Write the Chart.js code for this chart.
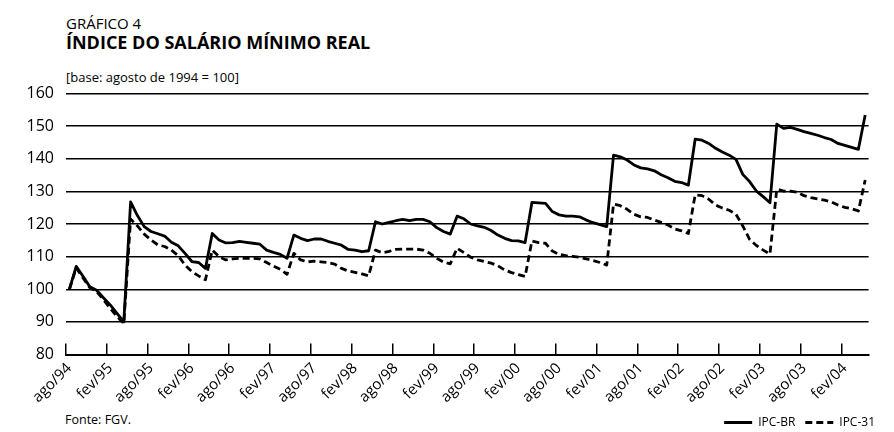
<!DOCTYPE html>
<html lang="pt-BR">
<head>
<meta charset="utf-8">
<title>Índice do salário mínimo real</title>
<script src="https://cdn.jsdelivr.net/npm/chart.js@4.4.1/dist/chart.umd.min.js"></script>
<style>
  html, body { margin: 0; padding: 0; background: #fff; }
  body { width: 894px; height: 432px; position: relative; overflow: hidden; font-family: "Open Sans", "Noto Sans", sans-serif; color: #000; }
  .txt { position: absolute; left: 66px; white-space: nowrap; line-height: 1; }
  #kicker { top: 16px; font-size: 15px; font-weight: 400; }
  #title { top: 33px; font-size: 18px; font-weight: 700; }
  #base { top: 70.5px; font-size: 13px; }
  #source { top: 414px; font-size: 12.5px; left: 65px; }
  #chart { position: absolute; left: 0; top: 0; }
</style>
</head>
<body>
<div class="txt" id="kicker">GRÁFICO 4</div>
<div class="txt" id="title">ÍNDICE DO SALÁRIO MÍNIMO REAL</div>
<div class="txt" id="base">[base: agosto de 1994 = 100]</div>
<div class="txt" id="source">Fonte: FGV.</div>
<canvas id="chart" width="894" height="432"></canvas>
<script>
// Monthly real minimum wage index, ago/94 = 100, from ago/94 to mai/04
const ipcBR = [
  100.0, 107.0, 104.0, 100.8, 99.7, 97.4, 95.2, 92.6, 90.0,
  126.8, 122.6, 119.2, 117.7, 117.0, 116.3, 114.4, 113.3, 111.0, 108.5, 108.2, 106.4,
  117.1, 115.1, 114.2, 114.3, 114.7, 114.4, 114.1, 113.8, 112.0, 111.3, 110.7, 109.5,
  116.6, 115.6, 114.9, 115.4, 115.4, 114.7, 114.1, 113.5, 112.2, 112.0, 111.5, 111.8,
  120.7, 120.0, 120.5, 121.0, 121.4, 121.0, 121.4, 121.4, 120.7, 118.9, 117.7, 116.9,
  122.4, 121.6, 120.0, 119.4, 119.0, 118.0, 116.6, 115.6, 114.9, 114.8, 114.3,
  126.6, 126.5, 126.3, 123.8, 122.8, 122.4, 122.4, 122.2, 121.2, 120.4, 119.8, 119.2,
  141.1, 140.6, 139.6, 138.1, 137.2, 136.9, 136.3, 135.1, 134.2, 133.1, 132.7, 131.9,
  146.0, 145.7, 144.7, 143.2, 142.1, 141.1, 139.8, 135.2, 133.0, 130.1, 128.4, 126.5,
  150.6, 149.3, 149.6, 149.0, 148.3, 147.8, 147.2, 146.5, 145.9, 144.7, 144.1, 143.5, 142.9,
  153.4
];

const ipc31 = [
  100.0, 106.5, 103.5, 100.5, 99.3, 96.8, 94.2, 91.6, 89.5,
  121.5, 119.4, 116.9, 115.1, 113.6, 113.1, 112.0, 110.3, 107.4, 105.4, 104.1, 102.9,
  112.0, 110.0, 109.0, 109.3, 109.5, 109.5, 109.5, 109.3, 108.2, 107.1, 106.1, 104.6,
  111.0, 109.0, 108.4, 108.6, 108.4, 108.2, 107.7, 106.4, 105.6, 105.2, 104.7, 104.1,
  112.0, 111.2, 111.6, 112.2, 112.3, 112.3, 112.3, 112.0, 111.0, 109.5, 108.3, 107.8,
  112.6, 111.2, 109.8, 109.0, 108.5, 108.0, 107.2, 105.9, 105.1, 104.5, 103.9,
  114.8, 114.3, 114.1, 111.7, 110.7, 110.3, 110.1, 109.8, 109.3, 108.8, 108.2, 107.4,
  126.1, 125.6, 124.5, 123.0, 122.2, 122.0, 121.2, 120.5, 119.7, 118.5, 117.9, 117.1,
  128.9, 128.7, 127.6, 125.8, 124.9, 124.2, 123.0, 119.4, 115.3, 113.4, 112.0, 110.8,
  130.7, 130.1, 130.1, 129.7, 128.7, 128.1, 127.7, 127.3, 126.8, 125.8, 125.1, 124.7, 124.0,
  133.5
];

const monthNames = ['jan', 'fev', 'mar', 'abr', 'mai', 'jun', 'jul', 'ago', 'set', 'out', 'nov', 'dez'];
const firstMonth = 7;   // agosto
const firstYear = 1994;

// Category labels, one per month (mmm/aa)
const months = ipcBR.map((_, k) => {
  const m = firstMonth + k;
  const yy = (firstYear + Math.floor(m / 12)) % 100;
  return monthNames[m % 12] + '/' + String(yy).padStart(2, '0');
});

const labelStep = 6;          // a labelled tick every six months
const yTicks = { min: 80, max: 160, step: 10 };
const seriesNames = ['IPC-BR', 'IPC-31'];

const fontFamily = '"Open Sans", "Noto Sans", sans-serif';
const tickFont = { family: fontFamily, size: 15 };
const yFont = { family: fontFamily, size: 16 };
const legendFont = { family: fontFamily, size: 12 };

const lineWidth = 2.8;

new Chart(document.getElementById('chart'), {
  type: 'line',
  data: {
    labels: months,
    datasets: [
      {
        label: seriesNames[0],
        data: ipcBR,
        borderColor: '#000',
        borderWidth: lineWidth,
        borderJoinStyle: 'round',
        pointRadius: 0,
        tension: 0,
        fill: false
      },
      {
        label: seriesNames[1],
        data: ipc31,
        borderColor: '#000',
        borderWidth: lineWidth,
        borderDash: [7, 4],
        borderJoinStyle: 'round',
        pointRadius: 0,
        tension: 0,
        fill: false
      }
    ]
  },
  options: {
    responsive: false,
    animation: false,
    events: [],
    layout: { padding: { left: 0, right: 9, top: 93.5, bottom: -6.5 } },
    plugins: {
      tooltip: { enabled: false },
      title: { display: false },
      legend: {
        position: 'bottom',
        align: 'end',
        labels: {
          usePointStyle: true,
          pointStyle: 'line',
          pointStyleWidth: 28,
          boxHeight: 13,
          padding: 10,
          color: '#000',
          font: legendFont,
          // line samples carry each series' own dash pattern and weight
          generateLabels: chart =>
            Chart.defaults.plugins.legend.labels.generateLabels(chart).map(item => {
              const ds = chart.data.datasets[item.datasetIndex];
              item.lineDash = ds.borderDash || [];
              item.lineWidth = 3;
              item.strokeStyle = ds.borderColor;
              return item;
            })
        }
      }
    },
    scales: {
      x: {
        type: 'category',
        offset: true,
        grid: {
          offset: true,
          drawOnChartArea: false,
          drawTicks: true,
          tickLength: -11,
          lineWidth: 1.5,
          color: c => (c.index !== undefined && c.index % labelStep === 0) ? '#000' : 'rgba(0,0,0,0)'
        },
        border: { display: true, color: '#000', width: 2 },
        ticks: {
          autoSkip: false,
          maxRotation: 45,
          minRotation: 45,
          padding: 16,
          color: '#000',
          font: tickFont,
          callback: (v, i) => (i % labelStep === 0 ? months[i] : '')
        },
        afterFit: s => { s.height = 52; }
      },
      y: {
        min: yTicks.min,
        max: yTicks.max,
        border: { display: false },
        grid: {
          drawTicks: false,
          lineWidth: 1.4,
          color: c => (c.tick && c.tick.value === yTicks.min) ? 'rgba(0,0,0,0)' : '#000'
        },
        ticks: {
          stepSize: yTicks.step,
          padding: 12,
          color: '#000',
          font: yFont
        },
        afterFit: s => { s.width = 66; }
      },
      // empty margin on the right of the plot, kept clear of the legend row
      yMargin: {
        position: 'right',
        display: true,
        border: { display: false },
        grid: { display: false },
        ticks: { display: false },
        afterFit: s => { s.width = 9; }
      }
    }
  }
});
</script>
</body>
</html>
